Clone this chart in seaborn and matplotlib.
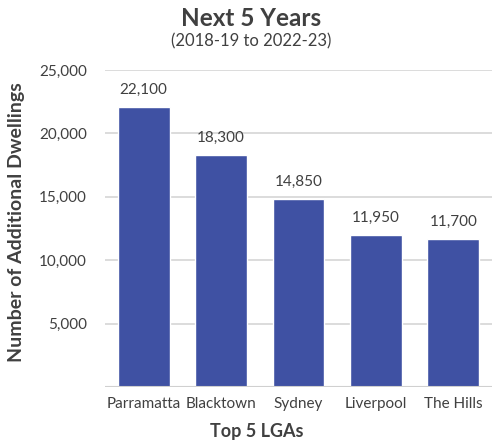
import matplotlib
matplotlib.use("Agg")
import matplotlib.pyplot as plt
import seaborn as sns
import pandas as pd

# Data
lgas = ['Parramatta', 'Blacktown', 'Sydney', 'Liverpool', 'The Hills']
dwellings = [22100, 18300, 14850, 11950, 11700]
y_ticks = [5000, 10000, 15000, 20000, 25000]

df = pd.DataFrame({'LGA': lgas, 'Dwellings': dwellings})

sns.set_style('white')
plt.rcParams['font.family'] = ['Lato', 'DejaVu Sans']
text_col = '#404040'

fig = plt.figure(figsize=(4.92, 4.42), dpi=100)
ax = fig.add_axes([105 / 492, 55 / 442, 387 / 492, 317 / 442])

sns.barplot(data=df, x='LGA', y='Dwellings', color='#3F51A3', width=0.67,
            saturation=1, ax=ax, zorder=3)

ax.set_ylim(0, 25000)
ax.set_xlim(-0.5, 4.5)
ax.set_yticks(y_ticks)
ax.set_yticklabels([f'{v:,}' for v in y_ticks])
for v in y_ticks:
    ax.axhline(v, color='#d9d9d9', lw=1.3, zorder=1)
ax.axhline(0, color='#d0d0d0', lw=1.5, zorder=4)

for s in ax.spines.values():
    s.set_visible(False)
ax.tick_params(axis='both', length=0, colors=text_col, labelsize=11)
ax.tick_params(axis='y', pad=13)
ax.tick_params(axis='x', pad=7)

for i, v in enumerate(dwellings):
    ax.text(i, v + 800, f'{v:,}', ha='center', va='bottom', fontsize=11, color=text_col)

ax.set_xlabel('')
ax.set_ylabel('Number of Additional Dwellings', fontsize=14, fontweight='bold',
              color=text_col)
ax.yaxis.set_label_coords(-0.207, 0.52)
fig.text(257 / 492, 1 - 431 / 442, 'Top 5 LGAs', ha='center', va='center',
         fontsize=13, fontweight='bold', color=text_col)

fig.text(251 / 492, 1 - 18 / 442, 'Next 5 Years', ha='center', va='center', fontsize=17.5,
         fontweight='bold', color=text_col)
fig.text(251 / 492, 1 - 41 / 442, '(2018-19 to 2022-23)', ha='center', va='center',
         fontsize=12, color=text_col)

fig.savefig('out.png', dpi=100)
